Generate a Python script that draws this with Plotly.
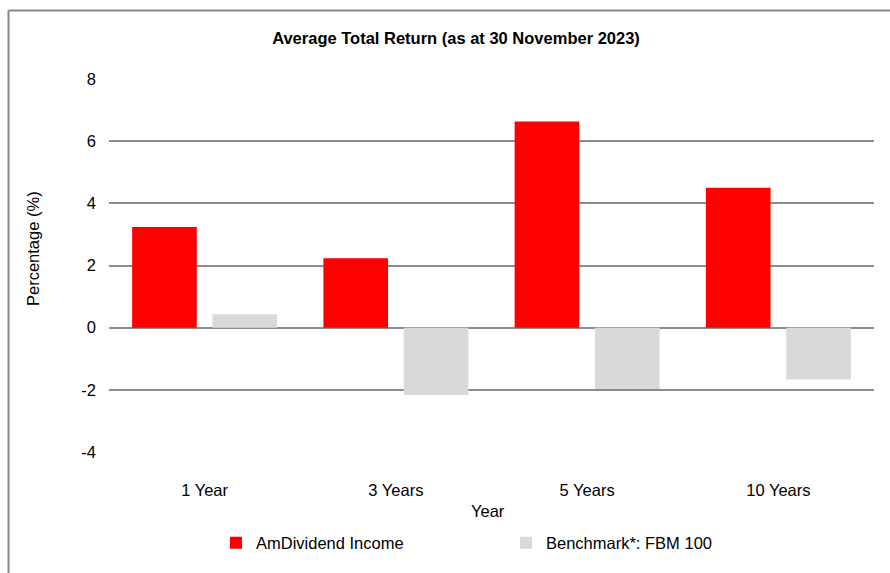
import plotly.graph_objects as go

categories = ["1 Year", "3 Years", "5 Years", "10 Years"]
fund_values = [3.24, 2.23, 6.63, 4.50]
bench_values = [0.43, -2.17, -1.97, -1.67]
fund_name = "AmDividend Income"
bench_name = "Benchmark*: FBM 100"
y_ticks = [-4, -2, 0, 2, 4, 6, 8]
y_tick_labels = ["-4", "-2", "0", "2", "4", "6", "8"]

FONT = "Liberation Sans, Arial, sans-serif"
FS = 16.5
W, H = 890, 573
L, R, T, B = 109, 16, 79, 121
pw, ph = W - L - R, H - T - B

def px_x(x):
    return (x - L) / pw

def px_y(y):
    return (H - B - y) / ph

fig = go.Figure()
fig.add_trace(go.Bar(x=categories, y=fund_values, name=fund_name,
                     marker=dict(color="#FF0000", line=dict(width=0))))
fig.add_trace(go.Bar(x=categories, y=bench_values, name=bench_name,
                     marker=dict(color="#D9D9D9", line=dict(width=0))))

grid = "#8C8C8C"
fig.update_layout(
    width=W, height=H,
    margin=dict(l=L, r=R, t=T, b=B, autoexpand=False),
    paper_bgcolor="white", plot_bgcolor="white",
    barmode="group", bargap=0.16, bargroupgap=0.195,
    font=dict(family=FONT, size=FS, color="#000000"),
    title=dict(text="<b>Average Total Return (as at 30 November 2023)</b>",
               x=456 / W, xref="container", xanchor="center",
               y=1 - 38 / H, yref="container", yanchor="middle",
               font=dict(family=FONT, size=FS, color="#000000")),
    xaxis=dict(showgrid=False, showline=False, zeroline=False,
               ticks="", ticklabelstandoff=26,
               tickfont=dict(size=FS, color="#000000")),
    yaxis=dict(range=[-4, 8], tickvals=y_ticks, ticktext=y_tick_labels,
               showgrid=True, gridcolor=grid, gridwidth=1.8, zeroline=True,
               zerolinecolor=grid, zerolinewidth=1.8, showline=False,
               ticks="", ticklabelstandoff=12,
               tickfont=dict(size=FS, color="#000000")),
    legend=dict(orientation="h", x=px_x(216), xanchor="left",
                y=px_y(543), yanchor="middle",
                entrywidth=245, entrywidthmode="pixels",
                itemwidth=30, traceorder="normal",
                font=dict(size=FS, color="#000000")),
    showlegend=True,
)

fig.add_annotation(text="Year", x=px_x(488), y=px_y(511), xref="paper", yref="paper",
                   showarrow=False, font=dict(size=FS, color="#000000"),
                   xanchor="center", yanchor="middle")
fig.add_annotation(text="Percentage (%)", x=px_x(33), y=px_y(249), xref="paper", yref="paper",
                   showarrow=False, textangle=-90, font=dict(size=FS, color="#000000"),
                   xanchor="center", yanchor="middle")

# outer chart border (top and left edges visible)
fig.add_shape(type="line", xref="paper", yref="paper",
              x0=px_x(8.5), x1=px_x(900), y0=px_y(10.5), y1=px_y(10.5),
              line=dict(color="#888888", width=2))
fig.add_shape(type="line", xref="paper", yref="paper",
              x0=px_x(8.5), x1=px_x(8.5), y0=px_y(10.5), y1=px_y(600),
              line=dict(color="#888888", width=2))

fig.write_html("out.html", config={"displayModeBar": False},
               post_script="document.body.style.margin='0';")
